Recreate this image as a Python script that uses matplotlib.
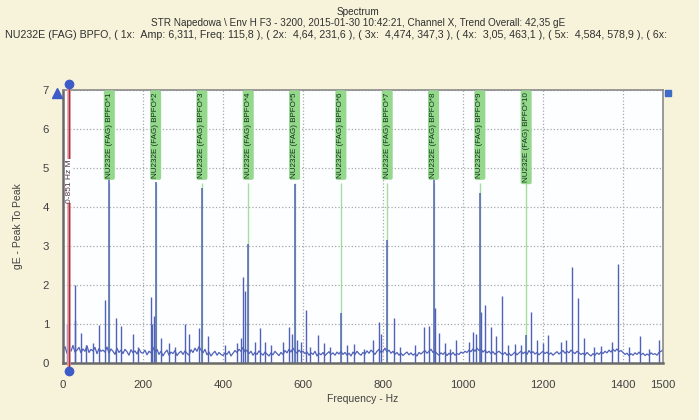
import matplotlib.pyplot as plt
import numpy as np

plt.rcParams['font.family'] = ['Liberation Sans', 'DejaVu Sans']

# BPFO harmonics (freq Hz, amplitude gE)
harm_freq = [115.8, 231.6, 347.3, 463.1, 578.9, 694.7, 810.5, 926.3, 1042.1, 1157.9]
harm_amp = [6.311, 4.64, 4.474, 3.05, 4.584, 1.28, 3.15, 4.9, 4.35, 0.72]
harm_labels = ['NU232E (FAG) BPFO*%d' % (i + 1) for i in range(10)]

# other spectral lines
peak_freq = [11, 29, 31, 45, 58, 75, 89, 104, 131.5, 146, 176, 187, 220, 222, 228,
             246, 264, 279, 304, 316, 341, 362, 406, 435, 445, 451, 454, 481, 492,
             505, 520, 551, 566, 572, 585, 596, 608, 618, 637, 653, 668, 710, 727,
             752, 775, 789, 795, 826.6, 843, 880, 901.5, 914, 931, 939, 955, 968,
             982, 1014, 1026, 1033, 1045, 1056, 1071, 1083, 1097, 1113, 1130, 1145,
             1171, 1186, 1199, 1212, 1244, 1258, 1272, 1287, 1302, 1328, 1344, 1372,
             1388, 1416, 1443, 1464, 1489]
peak_amp = [1.0, 1.1, 2.0, 0.77, 0.45, 0.5, 0.97, 1.62, 1.15, 0.95, 0.73, 0.4, 1.7, 1.0, 1.2,
            0.65, 0.5, 0.4, 1.0, 0.73, 0.9, 0.68, 0.46, 0.5, 0.65, 2.2, 1.85, 0.55, 0.9,
            0.55, 0.45, 0.55, 0.93, 0.75, 0.6, 0.55, 1.36, 0.4, 0.72, 0.5, 0.4, 0.45, 0.48,
            0.35, 0.6, 1.06, 0.75, 1.15, 0.4, 0.45, 0.93, 0.95, 1.4, 0.77, 0.5, 0.37,
            0.6, 0.55, 0.8, 0.75, 1.3, 1.49, 0.93, 0.68, 1.72, 0.45, 0.48, 0.45,
            1.31, 0.6, 0.5, 0.72, 0.55, 0.6, 2.47, 1.66, 0.65, 0.4, 0.43, 0.55,
            2.53, 0.4, 0.68, 0.35, 0.6]

# noise floor, one value per 5 Hz bin
floor_freq = np.arange(0, 1505, 5)
floor_amp = [
    0.35, 0.42, 0.25, 0.38, 0.3, 0.45, 0.28, 0.33, 0.4, 0.26, 0.36, 0.3, 0.44, 0.27, 0.35, 0.31, 0.4, 0.24, 0.37, 0.3,
    0.33, 0.28, 0.41, 0.25, 0.36, 0.3, 0.22, 0.38, 0.27, 0.33, 0.24, 0.35, 0.29, 0.2, 0.34, 0.26, 0.31, 0.23, 0.36, 0.27,
    0.25, 0.33, 0.21, 0.3, 0.26, 0.4, 0.28, 0.35, 0.22, 0.3, 0.18, 0.27, 0.33, 0.2, 0.28, 0.24, 0.32, 0.19, 0.26, 0.3,
    0.22, 0.31, 0.25, 0.2, 0.34, 0.27, 0.38, 0.3, 0.42, 0.33, 0.26, 0.35, 0.21, 0.28, 0.18, 0.25, 0.3, 0.2, 0.27, 0.22,
    0.19, 0.26, 0.22, 0.3, 0.18, 0.25, 0.32, 0.27, 0.35, 0.3, 0.4, 0.28, 0.33, 0.24, 0.3, 0.2, 0.27, 0.22, 0.31, 0.25,
    0.2, 0.28, 0.23, 0.18, 0.26, 0.21, 0.3, 0.24, 0.19, 0.27, 0.22, 0.32, 0.26, 0.35, 0.28, 0.38, 0.3, 0.25, 0.33, 0.27,
    0.3, 0.24, 0.28, 0.2, 0.26, 0.22, 0.3, 0.18, 0.25, 0.21, 0.27, 0.19, 0.24, 0.29, 0.22, 0.26, 0.2, 0.28, 0.23, 0.3,
    0.22, 0.27, 0.2, 0.25, 0.18, 0.28, 0.22, 0.3, 0.24, 0.2, 0.27, 0.23, 0.31, 0.25, 0.33, 0.28, 0.22, 0.3, 0.35, 0.27,
    0.3, 0.38, 0.28, 0.33, 0.25, 0.3, 0.22, 0.27, 0.2, 0.25, 0.19, 0.24, 0.28, 0.21, 0.26, 0.2, 0.24, 0.18, 0.27, 0.23,
    0.28, 0.32, 0.25, 0.3, 0.35, 0.27, 0.3, 0.24, 0.2, 0.26, 0.22, 0.28, 0.19, 0.25, 0.21, 0.27, 0.2, 0.24, 0.22, 0.28,
    0.25, 0.3, 0.27, 0.33, 0.29, 0.36, 0.3, 0.38, 0.32, 0.35, 0.28, 0.33, 0.26, 0.3, 0.24, 0.29, 0.22, 0.27, 0.3, 0.25,
    0.22, 0.27, 0.2, 0.25, 0.19, 0.23, 0.28, 0.21, 0.26, 0.3, 0.24, 0.28, 0.22, 0.32, 0.25, 0.29, 0.23, 0.27, 0.21, 0.26,
    0.3, 0.24, 0.28, 0.22, 0.26, 0.2, 0.25, 0.29, 0.23, 0.27, 0.32, 0.25, 0.3, 0.26, 0.33, 0.28, 0.24, 0.3, 0.26, 0.22,
    0.25, 0.2, 0.27, 0.22, 0.18, 0.24, 0.2, 0.26, 0.22, 0.28, 0.24, 0.3, 0.26, 0.33, 0.28, 0.35, 0.3, 0.36, 0.29, 0.32,
    0.27, 0.22, 0.25, 0.19, 0.24, 0.2, 0.26, 0.22, 0.28, 0.21, 0.25, 0.19, 0.23, 0.2, 0.26, 0.22, 0.24, 0.2, 0.27, 0.3,
    0.33]

cursor_freq = 15.8
x_ticks = [0, 200, 400, 600, 800, 1000, 1200, 1400, 1500]
y_ticks = [0, 1, 2, 3, 4, 5, 6, 7]

title1 = 'Spectrum'
title2 = 'STR Napedowa \\ Env H F3 - 3200, 2015-01-30 10:42:21, Channel X, Trend Overall: 42,35 gE'
title3 = ('NU232E (FAG) BPFO, ( 1x:  Amp: 6,311, Freq: 115,8 ), ( 2x:  4,64, 231,6 ), '
          '( 3x:  4,474, 347,3 ), ( 4x:  3,05, 463,1 ), ( 5x:  4,584, 578,9 ), ( 6x:')

bg = '#F7F3DA'
blue = '#5062B8'
fig = plt.figure(figsize=(6.99, 4.2), dpi=100, facecolor=bg)
ax = fig.add_axes([0.0901, 0.1357, 0.8584, 0.651])
ax.set_facecolor('#FDFEFF')

# green harmonic markers
ax.vlines(harm_freq, 0, 4.6, color='#A8DDA0', lw=1.0, zorder=1)

# spectrum
ax.plot(floor_freq, floor_amp, color=blue, lw=0.9, zorder=2)
ax.vlines(peak_freq, 0, peak_amp, color=blue, lw=1.0, zorder=2)
ax.vlines(harm_freq, 0, harm_amp, color=blue, lw=1.1, zorder=2)

for f, lab in zip(harm_freq, harm_labels):
    ax.text(f, 6.93, lab, rotation=90, ha='center', va='top', fontsize=5.8,
            color='#12301A', zorder=5,
            bbox=dict(boxstyle='round,pad=0.25', fc='#94D88C', ec='none'))

# cursor
ax.plot([cursor_freq, cursor_freq], [-0.2, 7.15], color='#E8A0A8', lw=2.6,
        clip_on=False, zorder=3)
ax.plot([cursor_freq, cursor_freq], [-0.2, 7.15], color='#A83040', lw=1.0,
        clip_on=False, zorder=4)
ax.plot([cursor_freq, cursor_freq], [7.15, -0.2], 'o', color='#3E5CC8', ms=6,
        clip_on=False, zorder=6)
ax.text(cursor_freq, 4.1, '0-851 Hz M', rotation=90, ha='center', va='bottom',
        fontsize=6, color='#503040', zorder=5,
        bbox=dict(boxstyle='square,pad=0.05', fc='#FDFEFF', ec='none'))
ax.plot([-14], [6.9], '^', color='#3E5CC8', ms=7, clip_on=False, zorder=6)
ax.plot([1513], [6.92], 's', color='#3E6CC8', ms=5, clip_on=False, zorder=6)

ax.set_xlim(0, 1500)
ax.set_ylim(0, 7)
ax.set_xticks(x_ticks)
ax.set_yticks(y_ticks)
ax.tick_params(length=0, labelsize=8.2, labelcolor='#404040')
ax.tick_params(axis='x', pad=12)
ax.tick_params(axis='y', pad=10)
ax.grid(True, ls=':', color='#A8A8A8', lw=0.9)
ax.set_axisbelow(True)
for s in ['left', 'bottom']:
    ax.spines[s].set_color('#6A6A6A')
    ax.spines[s].set_linewidth(1.8)
for s in ['top', 'right']:
    ax.spines[s].set_color('#8A8A8A')
    ax.spines[s].set_linewidth(1.2)

ax.set_xlabel('Frequency - Hz', fontsize=7.5, color='#404040', labelpad=3)
ax.set_ylabel('gE - Peak To Peak', fontsize=7.5, color='#404040', labelpad=14)

fig.text(0.512, 1 - 12 / 420, title1, ha='center', va='center', fontsize=7.2, color='#303030')
fig.text(0.512, 1 - 23 / 420, title2, ha='center', va='center', fontsize=7.2, color='#303030')
fig.text(5 / 699, 1 - 34.5 / 420, title3, ha='left', va='center', fontsize=7.7, color='#303030')

fig.savefig('out.png', dpi=100, facecolor=bg)
